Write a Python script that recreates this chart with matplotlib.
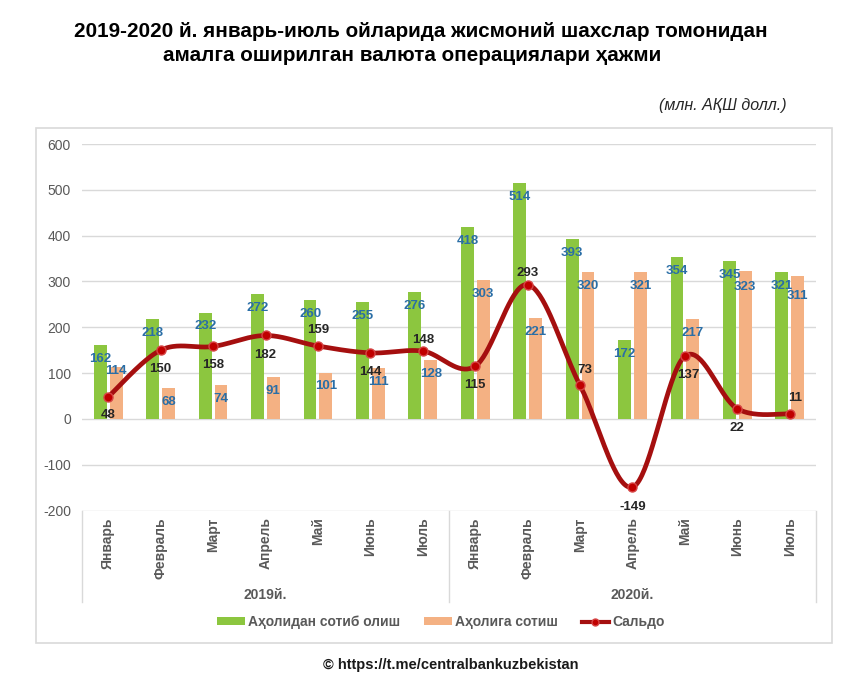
import numpy as np
import matplotlib
matplotlib.use("Agg")
import matplotlib.pyplot as plt
from matplotlib.patches import Rectangle, Patch
from matplotlib.lines import Line2D
from matplotlib import font_manager

# ---------------- data ----------------
months = ["Январь", "Февраль", "Март", "Апрель", "Май", "Июнь", "Июль"]
years = ["2019й.", "2020й."]
buy = [162, 218, 232, 272, 260, 255, 276, 418, 514, 393, 172, 354, 345, 321]
sell = [114, 68, 74, 91, 101, 111, 128, 303, 221, 320, 321, 217, 323, 311]
saldo = [48, 150, 158, 182, 159, 144, 148, 115, 293, 73, -149, 137, 22, 11]
series_names = ["Аҳолидан сотиб олиш", "Аҳолига сотиш", "Сальдо"]
yticks = [-200, -100, 0, 100, 200, 300, 400, 500, 600]

title1 = "2019-2020 й. январь-июль ойларида жисмоний шахслар томонидан"
title2 = "амалга оширилган валюта операциялари ҳажми"
units = "(млн. АҚШ долл.)"
footer = "© https://t.me/centralbankuzbekistan"

# ---------------- style ----------------
available = {f.name for f in font_manager.fontManager.ttflist}
base = "Liberation Sans" if "Liberation Sans" in available else "DejaVu Sans"
narrow = "Liberation Sans Narrow" if "Liberation Sans Narrow" in available else base
plt.rcParams["font.family"] = [base, "DejaVu Sans"]

GREEN = "#8CC63F"
ORANGE = "#F4B183"
RED = "#A50F0F"
BLUE = "#2A6EA6"
GREY = "#595959"
GRID = "#D9D9D9"

# label offsets (points) - style only
green_off = [(0, -10)] * 14
orange_off = [(0, -3), (0, -10), (0, -10), (0, -10), (0, -10), (0, -10), (0, -10),
              (0, -10), (0, -10), (0, -10), (0, -10), (0, -10), (0, -11.5), (0, -14)]
saldo_off = [(0, -13), (0, -13.5), (0, -13.5), (0, -14), (0, 11.5), (0, -13.5), (0, 8),
             (0, -13.5), (0, 8.6), (3.6, 11), (0, -14), (2.4, -13.7), (0, -13.7), (3.6, 11.5)]


def smooth(xs, ys, n=40):
    pts = np.column_stack([xs, ys]).astype(float)
    P = np.vstack([pts[0], pts, pts[-1]])
    out = []
    t = np.linspace(0, 1, n)[:, None]
    for i in range(1, len(P) - 2):
        p0, p1, p2, p3 = P[i - 1], P[i], P[i + 1], P[i + 2]
        c1 = p1 + (p2 - p0) / 6.0
        c2 = p2 - (p3 - p1) / 6.0
        b = (1 - t) ** 3 * p1 + 3 * (1 - t) ** 2 * t * c1 + 3 * (1 - t) * t ** 2 * c2 + t ** 3 * p2
        out.append(b if i == 1 else b[1:])
    return np.vstack(out)


W, H = 865, 686
fig = plt.figure(figsize=(W / 100, H / 100), dpi=100)

# outer chart border
fig.patches.append(Rectangle((36 / W, 1 - 643 / H), 796 / W, 515 / H,
                             transform=fig.transFigure, fill=False,
                             edgecolor=GRID, linewidth=1.2, zorder=0))

ax = fig.add_axes([82 / W, 1 - 510.5 / H, 734 / W, 366.5 / H])
ax.set_facecolor("none")

cats = months + months
x = np.arange(len(cats))
bw = 0.245
ax.bar(x - 0.15, buy, width=bw, color=GREEN, zorder=2)
ax.bar(x + 0.15, sell, width=bw, color=ORANGE, zorder=2)

curve = smooth(x, saldo)
ax.plot(curve[:, 0], curve[:, 1], color=RED, lw=3.4, solid_capstyle="round", zorder=3)
ax.plot(x, saldo, ls="none", marker="o", ms=6.5, mfc="#C00000", mec="#D64545",
        mew=1.0, zorder=4)

for i in range(len(x)):
    ax.annotate(str(buy[i]), (x[i] - 0.15, buy[i]), xytext=green_off[i],
                textcoords="offset points", ha="center", va="center",
                fontsize=9.5, fontweight="bold", color=BLUE, zorder=5)
    ax.annotate(str(sell[i]), (x[i] + 0.15, sell[i]), xytext=orange_off[i],
                textcoords="offset points", ha="center", va="center",
                fontsize=9.5, fontweight="bold", color=BLUE, zorder=5)
    ax.annotate(str(saldo[i]), (x[i], saldo[i]), xytext=saldo_off[i],
                textcoords="offset points", ha="center", va="center",
                fontsize=9.5, fontweight="bold", color="#262626", zorder=5)

ax.set_xlim(-0.5, len(cats) - 0.5)
ax.set_ylim(yticks[0], yticks[-1])
ax.set_yticks(yticks)
ax.set_yticklabels([str(v) for v in yticks], fontsize=10, color=GREY)
for v in yticks:
    ax.axhline(v, color=GRID, lw=1.0, zorder=1)
for s in ax.spines.values():
    s.set_visible(False)
ax.tick_params(axis="y", length=0, pad=8)
ax.set_xticks(x)
ax.set_xticklabels(cats, rotation=90, fontsize=10, fontweight="bold", color=GREY,
                   va="top", ha="center")
ax.tick_params(axis="x", length=0, pad=5)

# category group separators and year labels
tr = ax.get_xaxis_transform()
for sx in [-0.5, 6.5, 13.5]:
    ax.plot([sx, sx], [0, -0.25], color=GRID, lw=1.0, transform=tr, clip_on=False)
ax.text(3, -0.231, years[0], transform=tr, ha="center", va="center",
        fontsize=10, fontweight="bold", color=GREY)
ax.text(10, -0.231, years[1], transform=tr, ha="center", va="center",
        fontsize=10, fontweight="bold", color=GREY)

# legend
handles = [Patch(facecolor=GREEN, edgecolor="none"),
           Patch(facecolor=ORANGE, edgecolor="none"),
           Line2D([0], [0], color=RED, lw=3.0, marker="o", ms=5, mfc="#C00000", mec="#D64545")]
leg = fig.legend(handles, series_names, loc="center", bbox_to_anchor=(441 / W, 1 - 622 / H),
                 ncol=3, frameon=False, handlelength=2.0, handleheight=0.45,
                 handletextpad=0.25, columnspacing=1.7,
                 prop={"size": 10, "weight": "bold"})
for t in leg.get_texts():
    t.set_color(GREY)

# titles
fig.text(421 / W, 1 - 37 / H, title1, ha="center", va="baseline",
         fontsize=14.9, fontweight="bold", color="black")
fig.text(412 / W, 1 - 61 / H, title2, ha="center", va="baseline",
         fontsize=14.9, fontweight="bold", color="black")
fig.text(787 / W, 1 - 110 / H, units, ha="right", va="baseline",
         fontsize=11.5, style="italic", color="#262626")
fig.text(451 / W, 1 - 665 / H, footer, ha="center", va="center",
         fontsize=12 if narrow != base else 10.5, fontweight="bold", color="#1A1A1A",
         family=[narrow, "DejaVu Sans"])

fig.savefig("out.png", dpi=100)
